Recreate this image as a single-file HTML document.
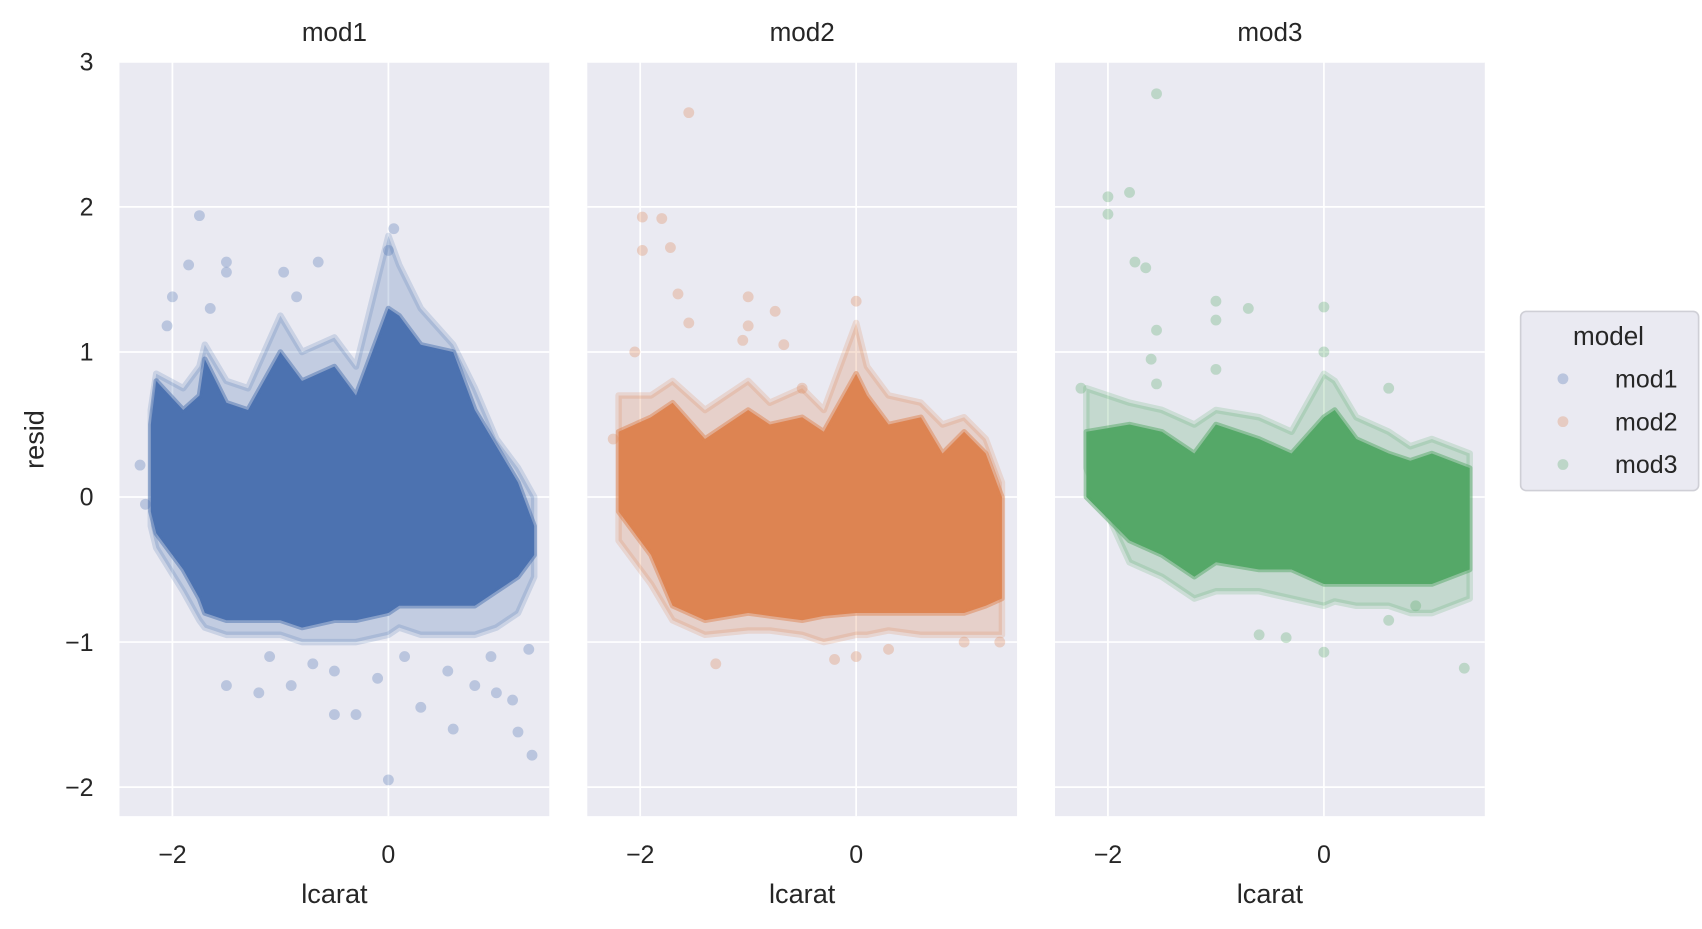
<!DOCTYPE html>
<html><head><meta charset="utf-8"><style>
html,body{margin:0;padding:0;background:#fff;}
svg{display:block;font-family:"Liberation Sans",Arial,sans-serif;}
</style></head><body>
<svg id="chart" width="1702" height="929" viewBox="0 0 1568 856" xmlns="http://www.w3.org/2000/svg"></svg>
<script>
const models = ["mod1","mod2","mod3"];
const colors = ["#4c72b0","#dd8452","#55a868"];
const yTicks = [-2,-1,0,1,2,3];
const xTicks = [-2,0];
// envelope of dense point cloud: lcarat positions, upper and lower residual bounds
const env1X = [-2.2,-2.15,-1.9,-1.75,-1.7,-1.5,-1.3,-1.0,-0.8,-0.5,-0.3,0,0.1,0.3,0.6,0.8,1.0,1.2,1.35];
const env1Up = [0.5,0.8,0.6,0.7,0.95,0.65,0.6,1.0,0.8,0.9,0.7,1.3,1.25,1.05,1.0,0.6,0.35,0.1,-0.2];
const env1Lo = [-0.1,-0.25,-0.5,-0.7,-0.8,-0.85,-0.85,-0.85,-0.9,-0.85,-0.85,-0.8,-0.75,-0.75,-0.75,-0.75,-0.65,-0.55,-0.4];
const fr1Up = [0.6,0.85,0.75,0.9,1.05,0.8,0.75,1.25,1.0,1.1,0.9,1.8,1.6,1.3,1.05,0.75,0.4,0.2,0.0];
const fr1Lo = [-0.2,-0.35,-0.65,-0.85,-0.9,-0.95,-0.95,-0.95,-1.0,-1.0,-1.0,-0.95,-0.9,-0.95,-0.95,-0.95,-0.9,-0.8,-0.55];
const env2X = [-2.2,-1.9,-1.7,-1.4,-1.0,-0.8,-0.5,-0.3,0,0.1,0.3,0.6,0.8,1.0,1.2,1.35];
const env2Up = [0.45,0.55,0.65,0.4,0.6,0.5,0.55,0.45,0.85,0.7,0.5,0.55,0.3,0.45,0.3,0.0];
const env2Lo = [-0.1,-0.4,-0.75,-0.85,-0.8,-0.82,-0.85,-0.82,-0.8,-0.8,-0.8,-0.8,-0.8,-0.8,-0.75,-0.7];
const fr2Up = [0.7,0.7,0.8,0.6,0.8,0.65,0.75,0.6,1.2,0.9,0.7,0.65,0.5,0.55,0.4,0.1];
const fr2Lo = [-0.3,-0.6,-0.85,-0.95,-0.92,-0.92,-0.95,-1.0,-0.95,-0.95,-0.92,-0.95,-0.95,-0.95,-0.95,-0.95];
const env3X = [-2.2,-1.8,-1.5,-1.2,-1.0,-0.6,-0.3,0,0.1,0.3,0.6,0.8,1.0,1.35];
const env3Up = [0.45,0.5,0.45,0.3,0.5,0.4,0.3,0.55,0.6,0.4,0.3,0.25,0.3,0.2];
const env3Lo = [0.0,-0.3,-0.4,-0.55,-0.45,-0.5,-0.5,-0.6,-0.6,-0.6,-0.6,-0.6,-0.6,-0.5];
const fr3Up = [0.75,0.65,0.6,0.5,0.6,0.55,0.45,0.85,0.8,0.55,0.45,0.35,0.4,0.3];
const fr3Lo = [0.2,-0.45,-0.55,-0.7,-0.65,-0.65,-0.7,-0.75,-0.72,-0.75,-0.75,-0.8,-0.8,-0.7];
// sparse outlier points
const out1X = [-1.75,-1.85,-1.5,-1.5,-0.65,-2.0,0.05,0.0,-0.97,-2.05,0.0,1.33,-0.5,-1.2,1.2,-0.3,0.3,0.6,-1.5,-0.9,-2.3,-2.25,1.0,0.8,-0.85,-1.65,-0.5,-0.1,0.15,0.55,0.95,1.15,1.3,-1.1,-0.7];
const out1Y = [1.94,1.6,1.62,1.55,1.62,1.38,1.85,1.7,1.55,1.18,-1.95,-1.78,-1.5,-1.35,-1.62,-1.5,-1.45,-1.6,-1.3,-1.3,0.22,-0.05,-1.35,-1.3,1.38,1.3,-1.2,-1.25,-1.1,-1.2,-1.1,-1.4,-1.05,-1.1,-1.15];
const out2X = [-1.55,-1.98,-1.8,-1.98,-1.72,-1.65,-1.55,-1.0,-0.75,-1.0,-0.67,-1.05,0.0,-2.05,-2.25,-1.3,-0.2,0.0,1.0,1.33,0.3,-0.5];
const out2Y = [2.65,1.93,1.92,1.7,1.72,1.4,1.2,1.38,1.28,1.18,1.05,1.08,1.35,1.0,0.4,-1.15,-1.12,-1.1,-1.0,-1.0,-1.05,0.75];
const out3X = [-1.55,-2.0,-1.8,-2.0,-1.75,-1.65,-1.55,-1.0,-1.0,-0.7,0.0,-1.6,-1.0,0.0,-2.25,0.0,-0.35,-0.6,1.3,0.6,0.85,-1.55,0.6];
const out3Y = [2.78,2.07,2.1,1.95,1.62,1.58,1.15,1.35,1.22,1.3,1.31,0.95,0.88,1.0,0.75,-1.07,-0.97,-0.95,-1.18,-0.85,-0.75,0.78,0.75];

const envX=[env1X,env2X,env3X], envUp=[env1Up,env2Up,env3Up], envLo=[env1Lo,env2Lo,env3Lo];
const frUp=[fr1Up,fr2Up,fr3Up], frLo=[fr1Lo,fr2Lo,fr3Lo];
const outX=[out1X,out2X,out3X], outY=[out1Y,out2Y,out3Y];

const NS="http://www.w3.org/2000/svg";
const svg=document.getElementById('chart');
function mk(tag,attrs,parent){const e=document.createElementNS(NS,tag);for(const k in attrs)e.setAttribute(k,attrs[k]);(parent||svg).appendChild(e);return e;}
const panelLeft=[110,541,972], pw=396, plotTop=57, plotBottom=752;
const xMin=-2.49, xMax=1.49, yMin=-2.2, yMax=3;
function sx(p,v){return panelLeft[p]+(v-xMin)/(xMax-xMin)*pw;}
function sy(v){return plotTop+(yMax-v)/(yMax-yMin)*(plotBottom-plotTop);}
function envPts(p,X,U,L){let pts=[];
  for(let i=0;i<X.length;i++)pts.push(sx(p,X[i])+','+sy(U[i]));
  for(let i=X.length-1;i>=0;i--)pts.push(sx(p,X[i])+','+sy(L[i]));
  return pts.join(' ');}

for(let p=0;p<3;p++){
  const g=mk('g',{});
  
  
  const bg=mk('rect',{x:panelLeft[p],y:plotTop,width:pw,height:plotBottom-plotTop,fill:'#eaeaf2'},g);
  
  
  yTicks.forEach(t=>{const l=mk('line',{x1:panelLeft[p],x2:panelLeft[p]+pw,y1:sy(t),y2:sy(t),stroke:'#fff','stroke-width':1.6},g);
    
    });
  xTicks.forEach(t=>{const l=mk('line',{x1:sx(p,t),x2:sx(p,t),y1:plotTop,y2:plotBottom,stroke:'#fff','stroke-width':1.6},g);
    
    
    const tl=mk('text',{x:sx(p,t),y:795,'text-anchor':'middle','font-size':23,fill:'#262626'},g);
    tl.textContent=(t<0?'\u2212':'')+Math.abs(t);
    
    });
  const fr=mk('polygon',{points:envPts(p,envX[p],frUp[p],frLo[p]),fill:colors[p],'fill-opacity':0.25,stroke:colors[p],'stroke-opacity':0.2,'stroke-width':6,'stroke-linejoin':'round'},g);
  
  
  const poly=mk('polygon',{points:envPts(p,envX[p],envUp[p],envLo[p]),fill:colors[p],stroke:colors[p],'stroke-opacity':0.5,'stroke-width':5,'stroke-linejoin':'round'},g);
  
  
  for(let i=0;i<outX[p].length;i++){
    const c=mk('circle',{cx:sx(p,outX[p][i]),cy:sy(outY[p][i]),r:5,fill:colors[p],'fill-opacity':0.3},g);
    
    
  }
  const title=mk('text',{x:panelLeft[p]+pw/2,y:38,'text-anchor':'middle','font-size':24,fill:'#262626'},g);
  title.textContent=models[p];
  
  
  const xl=mk('text',{x:panelLeft[p]+pw/2,y:832,'text-anchor':'middle','font-size':25,fill:'#262626'},g);
  xl.textContent='lcarat';
  
  
}
yTicks.forEach(t=>{const tl=mk('text',{x:86,y:sy(t)+8,'text-anchor':'end','font-size':23,fill:'#262626'});
  tl.textContent=(t<0?'\u2212':'')+Math.abs(t);
  
  });
const yl=mk('text',{x:0,y:0,'text-anchor':'middle','font-size':25,fill:'#262626',transform:'translate(40,405) rotate(-90)'});
yl.textContent='resid';


const lg=mk('g',{});


mk('rect',{x:1401,y:287,width:164,height:165,rx:5,fill:'#eaeaf2',stroke:'#cfcfd6','stroke-width':1.5},lg);
const lt=mk('text',{x:1482,y:318,'text-anchor':'middle','font-size':24,fill:'#262626'},lg);
lt.textContent='model';


models.forEach((m,i)=>{const y=349+i*39.5;
  const c=mk('circle',{cx:1440,cy:y,r:5,fill:colors[i],'fill-opacity':0.3},lg);
  
  
  const t=mk('text',{x:1488,y:y+8,'font-size':23,fill:'#262626'},lg);
  t.textContent=m;
  
  });
</script>
</body></html>
